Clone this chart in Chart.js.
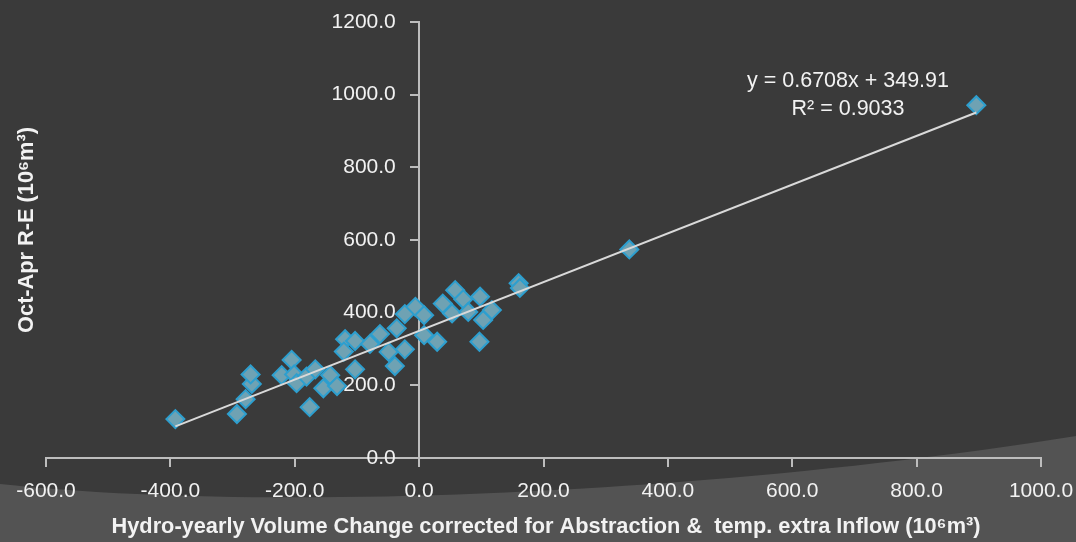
<!DOCTYPE html>
<html>
<head>
  <title>Oct-Apr R-E vs Hydro-yearly Volume Change</title>
  <script src="https://cdn.jsdelivr.net/npm/chart.js"></script>
  <style>
    html, body { margin: 0; padding: 0; background: #3a3a3a; }
    #wrap { position: relative; width: 1076px; height: 542px; }
  </style>
</head>
<body>
  <div id="wrap"><canvas id="scatterChart" width="1076" height="542"></canvas></div>
  <script>
    // volume change (x) and Oct-Apr R-E (y), both in 10^6 m3
    var volumeChange = [
      -392, -293, -279, -269, -271, -221, -205, -201, -197, -181,
      -167, -176, -154, -143, -132, -103, -119, -103, -121, -79,
      -63, -49, -39, -23, -36, -23, -6, 8, 8, 29,
      38, 53, 58, 71, 79, 98, 103, 117, 97, 160,
      162, 338, 896
    ];
    var recharge = [
      107, 121, 162, 204, 230, 228, 270, 230, 206, 224,
      244, 140, 192, 228, 198, 244, 327, 322, 293, 314,
      341, 292, 253, 299, 357, 396, 416, 393, 338, 320,
      425, 398, 462, 437, 402, 444, 380, 407, 320, 481,
      468, 574, 971
    ];
    var xTicks = [-600, -400, -200, 0, 200, 400, 600, 800, 1000];
    var yTicks = [0, 200, 400, 600, 800, 1000, 1200];

    // linear trend as reported on the chart
    var trendSlope = 0.6708;
    var trendIntercept = 349.91;
    var trendR2 = 0.9033;

    var points = volumeChange.map(function (v, i) { return { x: v, y: recharge[i] }; });
    var xMin = Math.min.apply(null, volumeChange);
    var xMax = Math.max.apply(null, volumeChange);
    var trendPoints = [xMin, xMax].map(function (v) {
      return { x: v, y: trendSlope * v + trendIntercept };
    });

    var family = "'Liberation Sans', Arial, sans-serif";
    var textColor = '#f2f2f2';
    var axisColor = '#bdbdbd';

    // dark slide background with the lighter swoosh along the bottom
    var backdrop = {
      id: 'backdrop',
      beforeDraw: function (chart) {
        var ctx = chart.ctx;
        ctx.save();
        ctx.fillStyle = '#3a3a3a';
        ctx.fillRect(0, 0, chart.width, chart.height);
        ctx.beginPath();
        ctx.moveTo(0, 484);
        ctx.bezierCurveTo(260, 512, 700, 496, 1076, 436);
        ctx.lineTo(1076, 542);
        ctx.lineTo(0, 542);
        ctx.closePath();
        ctx.fillStyle = '#535353';
        ctx.fill();
        ctx.restore();
      }
    };

    // axis titles and the trendline equation
    var captions = {
      id: 'captions',
      afterDraw: function (chart) {
        var ctx = chart.ctx;
        ctx.save();
        ctx.fillStyle = textColor;
        ctx.textAlign = 'center';
        ctx.textBaseline = 'middle';

        ctx.font = 'bold 21.75px ' + family;
        ctx.fillText('Hydro-yearly Volume Change corrected for Abstraction &  temp. extra Inflow (10\u2076m\u00b3)', 546, 527);

        ctx.save();
        ctx.translate(27, 230);
        ctx.rotate(-Math.PI / 2);
        ctx.fillText('Oct-Apr R-E (10\u2076m\u00b3)', 0, 0);
        ctx.restore();

        ctx.font = '21.5px ' + family;
        ctx.fillText('y = ' + trendSlope + 'x + ' + trendIntercept, 848, 81);
        ctx.fillText('R\u00b2 = ' + trendR2, 848, 109);
        ctx.restore();
      }
    };

    // keep the plot area where the layout padding puts it
    function noLabelPadding(axis) {
      axis.paddingLeft = 0;
      axis.paddingRight = 0;
      axis.paddingTop = 0;
      axis.paddingBottom = 0;
    }

    var ctx = document.getElementById('scatterChart').getContext('2d');
    var chart = new Chart(ctx, {
      type: 'scatter',
      data: {
        datasets: [{
          label: 'Oct-Apr R-E',
          data: points,
          pointStyle: 'rectRot',
          pointRadius: 9,
          pointHoverRadius: 9,
          backgroundColor: '#6fa2b3',
          borderColor: '#2d9fcf',
          borderWidth: 2,
          order: 1
        }, {
          type: 'line',
          label: 'Linear trend',
          data: trendPoints,
          borderColor: '#d9d9d9',
          borderWidth: 2,
          pointRadius: 0,
          fill: false,
          order: 0
        }]
      },
      options: {
        responsive: false,
        animation: false,
        layout: { padding: { left: 46, right: 35, top: 22, bottom: 84 } },
        plugins: {
          legend: { display: false },
          tooltip: { enabled: false }
        },
        scales: {
          x: {
            type: 'linear',
            position: { y: 0 },
            min: -600,
            max: 1000,
            afterBuildTicks: function (axis) {
              axis.ticks = xTicks.map(function (v) { return { value: v }; });
            },
            afterFit: noLabelPadding,
            ticks: {
              color: textColor,
              font: { family: family, size: 21 },
              padding: 13,
              maxRotation: 0,
              callback: function (v) { return v.toFixed(1); }
            },
            grid: { drawOnChartArea: false, drawTicks: true, tickLength: 8, color: axisColor, lineWidth: 2 },
            border: { display: true, color: axisColor, width: 2 }
          },
          y: {
            type: 'linear',
            position: { x: 0 },
            min: 0,
            max: 1200,
            afterBuildTicks: function (axis) {
              axis.ticks = yTicks.map(function (v) { return { value: v }; });
            },
            afterFit: noLabelPadding,
            ticks: {
              color: textColor,
              font: { family: family, size: 21 },
              // labels sit flush on the axis line when it is placed at x = 0, so pad them with spaces
              callback: function (v) { return v.toFixed(1) + '    '; }
            },
            grid: { drawOnChartArea: false, drawTicks: true, tickLength: 8, color: axisColor, lineWidth: 2 },
            border: { display: true, color: axisColor, width: 2 }
          }
        }
      },
      plugins: [backdrop, captions]
    });
  </script>
</body>
</html>
